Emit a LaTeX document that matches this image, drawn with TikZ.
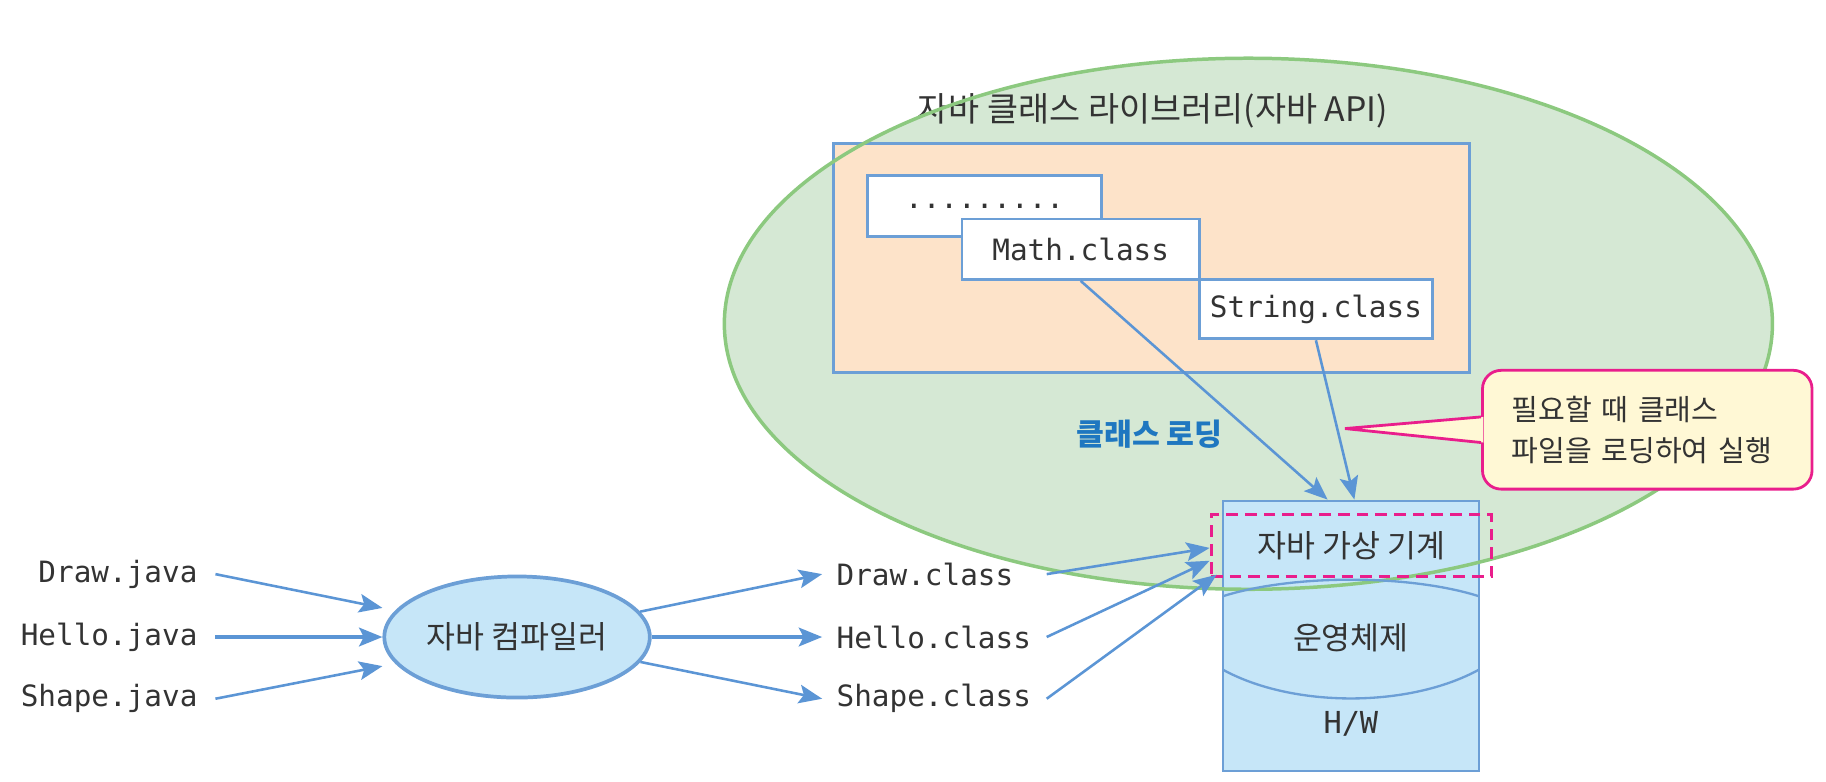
\documentclass[tikz,border=0pt]{standalone}
\usepackage{fontspec}
\setmainfont{Noto Sans CJK KR}
\newfontfamily\codefont{DejaVu Sans Mono}
\usepackage{tikz}
\usetikzlibrary{shapes.geometric, arrows.meta, positioning}

\definecolor{libgreen}{HTML}{D5E8D4}
\definecolor{libline}{HTML}{8CC97F}
\definecolor{peach}{HTML}{FDE3C9}
\definecolor{boxline}{HTML}{6C9FD6}
\definecolor{arrowblue}{HTML}{5B95D5}
\definecolor{skyfill}{HTML}{C6E6F8}
\definecolor{pinkline}{HTML}{E91E8C}
\definecolor{notefill}{HTML}{FFF8D5}
\definecolor{loadblue}{HTML}{1F77C0}
\definecolor{inkgray}{HTML}{333333}

\begin{document}
\begin{tikzpicture}[
    x=0.5pt, y=-0.5pt,
    every node/.style={text=inkgray, font=\fontsize{12.5}{15}\selectfont},
    big/.style={font=\fontsize{13.5}{16}\selectfont},
    code/.style={font=\codefont\fontsize{12.6}{15}\selectfont},
    classbox/.style={code, draw=boxline, line width=1.2pt, fill=white, minimum height=26pt},
    srcfile/.style={code, anchor=east, text width=76pt, align=right, inner xsep=7.5pt},
    outfile/.style={code, anchor=west, text width=84pt, align=left, inner xsep=6pt},
    arr/.style={draw=arrowblue, line width=1.1pt, -{Stealth[length=10pt, width=8pt, inset=2pt]}},
    thickarr/.style={arr, line width=1.6pt}
  ]
    \useasboundingbox (0,0) rectangle (1568,671);

    \path[fill=libgreen] (1072,278) ellipse [x radius=450, y radius=228];
    \node[font=\fontsize{14.5}{17}\selectfont] (libtitle) at (990,95) {자바 클래스 라이브러리(자바 API)};
    \node[draw=boxline, line width=1.2pt, fill=peach, minimum width=273pt, minimum height=98.5pt] (api) at (989,221.5) {};
    \node[classbox, minimum width=100.5pt] (more) at (845.5,177) {.........};
    \node[classbox, minimum width=102pt] (math) at (928,214) {Math.class};
    \node[classbox, minimum width=100pt, minimum height=25.5pt] (string) at (1130,265.5) {String.class};
    \node[text=loadblue, font=\bfseries\fontsize{13}{15}\selectfont] (loading) at (987,373) {클래스 로딩};

    \node[draw=boxline, line width=1pt, fill=skyfill, minimum width=110pt, minimum height=116pt] (vm) at (1160,546) {};
    \draw[libline, line width=1.5pt] (1072,278) ellipse [x radius=450, y radius=228];
    \draw[boxline, line width=1pt] (1050,512) .. controls (1110,493) and (1210,493) .. (1270,512);
    \draw[boxline, line width=1pt] (1050,575) .. controls (1110,608) and (1210,608) .. (1270,575);
    \node[big, draw=pinkline, dash pattern=on 5pt off 3pt, line width=1.3pt, minimum width=120.5pt, minimum height=26.5pt] (jvm) at (1160.5,468.5) {자바 가상 기계};
    \node[big] (os) at (1160,548) {운영체제};
    \node[code, font=\codefont\fontsize{13}{15}\selectfont] (hw) at (1160,622) {H/W};

    \draw[arr] (math.south) -- ([xshift=-10pt]vm.north);
    \draw[arr] (string.south) -- ([xshift=1.5pt]vm.north);

    \node[draw=pinkline, line width=1.2pt, fill=notefill, rounded corners=8pt, minimum width=141.5pt, minimum height=51pt,
          text width=116.5pt, align=left, inner xsep=12.5pt, font=\fontsize{12.5}{17.5}\selectfont] (note) at (1414.5,369)
          {필요할 때 클래스\\파일을 로딩하여 실행};
    \coordinate (tip) at (1155,368);
    \fill[notefill] ([xshift=1pt, yshift=5.5pt]note.west) -- (tip) -- ([xshift=1pt, yshift=-5.5pt]note.west) -- cycle;
    \draw[pinkline, line width=1.2pt] ([yshift=5.5pt]note.west) -- (tip) -- ([yshift=-5.5pt]note.west);

    \node[ellipse, big, inner sep=0pt, draw=boxline, line width=1.6pt, fill=skyfill, minimum width=114pt, minimum height=52pt] (javac) at (444,547) {자바 컴파일러};

    \node[srcfile] (drawsrc) at (185,493) {Draw.java};
    \node[srcfile] (hellosrc) at (185,547) {Hello.java};
    \node[srcfile] (shapesrc) at (185,600) {Shape.java};

    \node[outfile] (drawcls) at (706,493) {Draw.class};
    \node[outfile] (hellocls) at (706,547) {Hello.class};
    \node[outfile] (shapecls) at (706,600) {Shape.class};

    \draw[arr] (drawsrc.east) -- ([yshift=12.5pt]javac.west);
    \draw[thickarr] (hellosrc.east) -- (javac.west);
    \draw[arr] (shapesrc.east) -- ([yshift=-12.5pt]javac.west);

    \draw[arr] (javac) -- (drawcls.west);
    \draw[thickarr] (javac.east) -- (hellocls.west);
    \draw[arr] (javac) -- (shapecls.west);

    \draw[arr] (drawcls.east) -- ([yshift=-1pt]jvm.west);
    \draw[arr] (hellocls.east) -- ([yshift=-6.5pt]jvm.west);
    \draw[arr] (shapecls.east) -- ([xshift=3pt, yshift=-12.5pt]jvm.west);
\end{tikzpicture}
\end{document}
